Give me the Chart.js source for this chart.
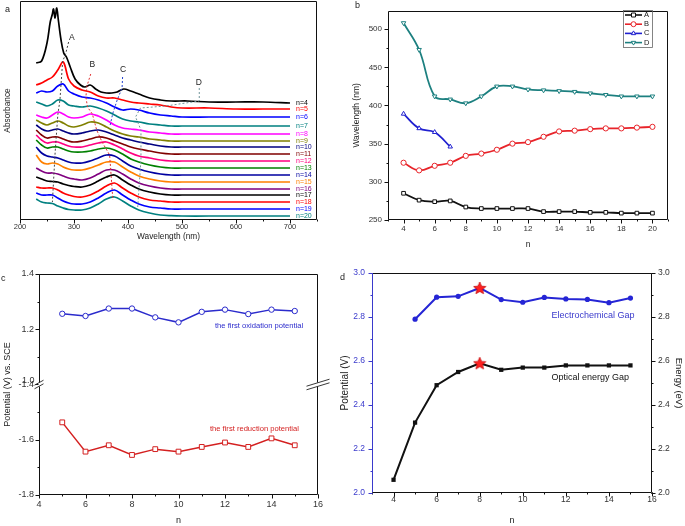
<!DOCTYPE html>
<html><head><meta charset="utf-8">
<script src="https://cdn.jsdelivr.net/npm/chart.js@4.4.1/dist/chart.umd.min.js"></script>
<style>
html,body{margin:0;padding:0;background:#fff;}
body{width:685px;height:526px;overflow:hidden;position:relative;font-family:"Liberation Sans",Arial,sans-serif;}
canvas{position:absolute;}
.pl{position:absolute;font-size:9px;color:#222;line-height:9px;}
</style></head><body>
<canvas id="ca" width="340" height="260" style="left:0;top:0"></canvas>
<canvas id="cb" width="345" height="260" style="left:340px;top:0"></canvas>
<canvas id="cc" width="340" height="266" style="left:0;top:260px"></canvas>
<canvas id="cd" width="345" height="266" style="left:340px;top:260px"></canvas>
<div class="pl" style="left:5px;top:5px">a</div>
<div class="pl" style="left:355px;top:1px">b</div>
<div class="pl" style="left:1px;top:274px">c</div>
<div class="pl" style="left:340px;top:273px">d</div>
<script>
// ---------- Panel a: absorption spectra (offset traces, arbitrary units) ----------
const wavelengths = [230,240,250,260,270,280,290,300,315,330,345,360,375,390,405,420,440,460,480,500,550,600,650,700];
const wavelengthsN4 = [230,240,250,256,260,262,265,268,271,276,281,286,293,302,312,320,330,340,350,360,370,380,392,405,420,440,460,480,510,550,600,650,700];
const absN4  = [157,159,177,198,206,211,202,212,200,180,167,163,153,141,135,133,135,131,128,127,127,128,131,129,126,122,120,119,119,118,118,118,117];
const absN5  = [135,137,140,143,150,158,141,134,130,128,124,122,122,120,118,117,116,115,113,112,112,111,111,111];
const absN6  = [127,129,128,129,134,136,129,126,123,122,120,117,113,110,111,110,107,105,104,103,103,103,103,103];
const absN7  = [118,116,114,116,120,119,115,114,113,114,112,109,105,101,99,98,96,95,94,94,94,94,94,94];
const absN8  = [105,103,102,105,108,106,103,102,103,106,104,100,95,92,91,90,88,87,86,86,86,86,86,86];
const absN9  = [100,97,95,97,99,97,94,93,95,98,97,93,89,86,84,83,81,80,79,79,79,79,79,79];
const absN10 = [95,91,89,90,91,89,87,86,87,89,90,88,85,82,80,78,76,74,73,73,73,73,73,73];
const absN11 = [90,85,82,83,83,81,79,78,79,81,83,82,79,76,73,71,69,67,66,66,66,66,66,66];
const absN12 = [85,80,77,78,78,76,74,73,73,75,77,78,75,71,67,64,62,60,59,59,59,59,59,59];
const absN13 = [80,75,72,73,73,71,69,68,68,69,71,72,70,66,61,58,55,53,52,52,52,52,52,52];
const absN14 = [73,67,64,63,62,60,58,57,57,59,62,65,64,59,54,51,48,46,45,45,45,45,45,45];
const absN15 = [65,58,56,57,56,53,51,50,50,52,55,58,58,53,48,44,41,39,38,38,38,38,38,38];
const absN16 = [52,49,47,47,46,44,42,41,40,42,46,50,50,46,41,37,34,32,31,31,31,31,31,31];
const absN17 = [43,41,39,38.5,38,36,34.5,33.5,33,35,39,43,45,40,35,31,28,26,25,25,25,25,25,25];
const absN18 = [33,32,32,32,30,27,25,23.5,23,25,29,34,37,32,27,23,20,19,18,18,18,18,18,18];
const absN19 = [27,25,25,25,22,19,17,16,16,18,22,27,30,25,20,16,13,12,11,11,11,11,11,11];
const absN20 = [21,18,17,16.5,14,12,10.5,10,10,12,16,21,23,19,14,10,7,5,4.3,4,4,4,4,4];
// dashed guides through peaks A-D (wavelength, trace height)
const guideA_x = [290,284,279,274,270,265,260], guideA_y = [178,165,159,120,105,67,18];
const guideB_x = [331,324,322,325,334,342,352,366,372], guideB_y = [146,134,123,113,106,90,78,65,20];
const guideC_x = [390,389,380,372,367], guideC_y = [143,132,120,107,95];
const guideD_x = [532,532,470,423,414,424,424,418], guideD_y = [132,119,114,112,103,90,60,13];
const peakLabels = [{t:'A',x:296,y:182},{t:'B',x:334,y:155},{t:'C',x:391,y:150},{t:'D',x:531,y:137}];

// ---------- Panel b: peak wavelengths vs n ----------
const nB = [4,5,6,7,8,9,10,11,12,13,14,15,16,17,18,19,20];
const peakA = [285,276,274,275,267,265,265,265,265,261,261,261,260,260,259,259,259];
const peakB = [325,315,321,325,334,337,342,350,352,359,366,367,369,370,370,371,372];
const nC = [4,5,6,7];
const peakC = [389,370,365,346];
const peakD = [508,473,412,408,403,412,425,425,421,420,419,418,416,414,412,412,412];
const ticksB_x = [4,6,8,10,12,14,16,18,20];

// ---------- Panel c: redox potentials ----------
const nCV = [5,6,7,8,9,10,11,12,13,14,15];
const oxidation = [1.256,1.248,1.275,1.275,1.243,1.225,1.263,1.271,1.255,1.271,1.266];
const reduction = [-1.537,-1.643,-1.620,-1.655,-1.634,-1.643,-1.626,-1.610,-1.626,-1.595,-1.620];
const BREAK_SHIFT = 2.4; // upper segment 1.0..1.4 shown above lower segment -1.8..-1.4

// ---------- Panel d: gaps ----------
const nGapE = [5,6,7,8,9,10,11,12,13,14,15];
const gapE = [2.79,2.89,2.894,2.932,2.879,2.867,2.889,2.882,2.88,2.865,2.886];
const nGapO = [4,5,6,7,8,9,10,11,12,13,14,15];
const gapO = [2.06,2.32,2.49,2.55,2.59,2.56,2.57,2.57,2.58,2.58,2.58,2.58];
const highlightN = 8;

const FONT = "'Liberation Sans', Arial, Helvetica, sans-serif";
Chart.defaults.font.family = FONT;
Chart.defaults.color = '#333';
Chart.defaults.animation = false;

const pts = (xs, ys) => xs.map((x,i)=>({x:x, y:ys[i]}));
const forceW = w => s => { s.width = w; };
const forceH = h => s => { s.height = h; };
const noGrid = {display:false, drawTicks:false};

const framePlugin = {
  id:'frame',
  afterDatasetsDraw(chart, args, o){
    if(!o || !o.on) return;
    const ctx = chart.ctx, a = chart.chartArea;
    const L = Math.round(a.left)+0.5, R = Math.round(a.right)-0.5, T = Math.round(a.top)+0.5, B = Math.round(a.bottom)-0.5;
    ctx.save(); ctx.lineWidth = 1;
    const line=(x1,y1,x2,y2,c)=>{ctx.strokeStyle=c;ctx.beginPath();ctx.moveTo(x1,y1);ctx.lineTo(x2,y2);ctx.stroke();};
    line(L,T,R,T,o.top||'#111'); line(R,T,R,B,o.right||'#111'); line(L,B,R,B,o.bottom||'#111'); line(L,T,L,B,o.left||'#111');
    (o.ticks||[]).forEach(t=>{
      const sc = chart.scales[t.scale]; const col = t.color||'#111';
      const draw=(v,len)=>{
        const p = Math.round(sc.getPixelForValue(v))+0.5;
        if(t.side==='bottom') line(p,B,p,B+len,col);
        else if(t.side==='left') line(L,p,L-len,p,col);
        else line(R,p,R+len,p,col);
      };
      if(t.minor){ for(let i=0;;i++){ const v=t.minorFrom+i*t.minor; if(v>sc.max+1e-9) break; draw(v,t.minorLen||2);} }
      sc.ticks.forEach(k=>draw(k.value,t.len||4));
    });
    ctx.restore();
  }
};
Chart.register(framePlugin);

function drawMarker(ctx, style, x, y, r, stroke, fill, rot){
  ctx.save(); ctx.translate(x,y); if(rot) ctx.rotate(rot*Math.PI/180);
  ctx.beginPath();
  if(style==='rect'){ ctx.rect(-r*0.8,-r*0.8,r*1.6,r*1.6); }
  else if(style==='triangle'){ ctx.moveTo(0,-r); ctx.lineTo(r*0.87,r*0.5); ctx.lineTo(-r*0.87,r*0.5); ctx.closePath(); }
  else { ctx.arc(0,0,r,0,Math.PI*2); }
  ctx.fillStyle=fill; ctx.fill(); ctx.strokeStyle=stroke; ctx.lineWidth=1; ctx.stroke(); ctx.restore();
}

// ======================= Panel a =======================
const spectra = [
  {n:4, x:wavelengthsN4, y:absN4, color:'#000000'},
  {n:5, x:wavelengths, y:absN5, color:'#ff0000'},
  {n:6, x:wavelengths, y:absN6, color:'#0000ff'},
  {n:7, x:wavelengths, y:absN7, color:'#008080'},
  {n:8, x:wavelengths, y:absN8, color:'#ff00ff'},
  {n:9, x:wavelengths, y:absN9, color:'#808000'},
  {n:10, x:wavelengths, y:absN10, color:'#000080'},
  {n:11, x:wavelengths, y:absN11, color:'#800000'},
  {n:12, x:wavelengths, y:absN12, color:'#ff0080'},
  {n:13, x:wavelengths, y:absN13, color:'#008000'},
  {n:14, x:wavelengths, y:absN14, color:'#0000a0'},
  {n:15, x:wavelengths, y:absN15, color:'#ff8000'},
  {n:16, x:wavelengths, y:absN16, color:'#800080'},
  {n:17, x:wavelengths, y:absN17, color:'#000000'},
  {n:18, x:wavelengths, y:absN18, color:'#ff0000'},
  {n:19, x:wavelengths, y:absN19, color:'#0000ff'},
  {n:20, x:wavelengths, y:absN20, color:'#008080'}
];
const guides = [
  {x:guideA_x, y:guideA_y, color:'#444444'},
  {x:guideB_x, y:guideB_y, color:'#e03030'},
  {x:guideC_x, y:guideC_y, color:'#2040d0'},
  {x:guideD_x, y:guideD_y, color:'#70959a'}
];
const dsA = [];
guides.forEach(g=>dsA.push({data:pts(g.x,g.y), borderColor:g.color, borderWidth:1, borderDash:[2,2], tension:0, pointRadius:0, order:0}));
spectra.forEach((s,i)=>dsA.push({data:pts(s.x,s.y), borderColor:s.color, borderWidth:1.7, tension:0.35, pointRadius:0, order:1+i}));

const labelsA = {
  id:'labelsA',
  afterDatasetsDraw(chart){
    const {ctx, scales:{x,y}} = chart;
    ctx.save(); ctx.textBaseline='middle'; ctx.textAlign='left'; ctx.font = "7px "+FONT;
    spectra.forEach(s=>{ ctx.fillStyle=s.color; ctx.fillText('n='+s.n, x.getPixelForValue(s.x[s.x.length-1])+6, y.getPixelForValue(s.y[s.y.length-1])); });
    ctx.font = "8.5px "+FONT; ctx.fillStyle='#222'; ctx.textAlign='center';
    peakLabels.forEach(p=>ctx.fillText(p.t, x.getPixelForValue(p.x), y.getPixelForValue(p.y)));
    ctx.restore();
  }
};

new Chart(document.getElementById('ca'), {
  type:'line',
  data:{datasets:dsA},
  plugins:[labelsA],
  options:{
    responsive:false, animation:false,
    layout:{padding:{top:1,right:23,left:0,bottom:0}},
    plugins:{legend:{display:false}, tooltip:{enabled:false},
      frame:{on:true, ticks:[{scale:'x', side:'bottom', len:4, minor:50, minorFrom:200, minorLen:2}]}},
    scales:{
      x:{type:'linear', min:200, max:750, afterFit:forceH(40), grid:noGrid, border:{display:false},
         ticks:{stepSize:100, includeBounds:false, padding:2, font:{size:7.5}},
         title:{display:true, text:'Wavelength (nm)', font:{size:8.3}, color:'#222', padding:{top:0,bottom:18}}},
      y:{type:'linear', min:0, max:219, afterFit:forceW(20), grid:noGrid, border:{display:false},
         ticks:{display:false},
         title:{display:true, text:'Absorbance', font:{size:8.3}, color:'#222', padding:{top:3,bottom:0}}}
    }
  }
});

// ======================= Panel b =======================
const seriesB = [
  {label:'A', x:nB, y:peakA, color:'#111111', style:'rect', rot:0},
  {label:'B', x:nB, y:peakB, color:'#e8242a', style:'circle', rot:0},
  {label:'C', x:nC, y:peakC, color:'#2020d0', style:'triangle', rot:0},
  {label:'D', x:nB, y:peakD, color:'#1d8080', style:'triangle', rot:180}
];
const legendB = {
  id:'legendB',
  afterDatasetsDraw(chart){
    const ctx = chart.ctx; ctx.save();
    const bx=283, by=10, bw=29, bh=37;
    ctx.strokeStyle='#666'; ctx.lineWidth=0.8; ctx.strokeRect(bx+0.5,by+0.5,bw,bh);
    ctx.font = "7.5px "+FONT; ctx.textBaseline='middle'; ctx.textAlign='left';
    seriesB.forEach((s,i)=>{
      const yy = by+5+i*9.2;
      ctx.strokeStyle=s.color; ctx.lineWidth=1.6; ctx.beginPath(); ctx.moveTo(bx+2,yy); ctx.lineTo(bx+19,yy); ctx.stroke();
      drawMarker(ctx, s.style, bx+10.5, yy, 2.5, s.color, '#fff', s.rot);
      ctx.fillStyle='#222'; ctx.fillText(s.label, bx+21, yy);
    });
    ctx.restore();
  }
};
new Chart(document.getElementById('cb'), {
  type:'line',
  data:{datasets: seriesB.map(s=>({label:s.label, data:pts(s.x,s.y), borderColor:s.color, borderWidth:1.8, tension:0.4,
      pointStyle:s.style, pointRotation:s.rot, pointRadius:2.6, pointBorderWidth:1, pointBorderColor:s.color, pointBackgroundColor:'#fff'}))},
  plugins:[legendB],
  options:{
    responsive:false, animation:false,
    layout:{padding:{top:1,right:17,left:0,bottom:0}},
    plugins:{legend:{display:false}, tooltip:{enabled:false},
      frame:{on:true, ticks:[{scale:'x', side:'bottom', len:4, minor:1, minorFrom:3, minorLen:2},
                             {scale:'y', side:'left', len:4, minor:25, minorFrom:250, minorLen:2}]}},
    scales:{
      x:{type:'linear', min:3, max:21, afterFit:forceH(40), grid:noGrid, border:{display:false},
         afterBuildTicks: s => { s.ticks = ticksB_x.map(v=>({value:v})); },
         ticks:{padding:3.5, font:{size:8}},
         title:{display:true, text:'n', font:{size:8.5}, color:'#222', padding:{top:0,bottom:10}}},
      y:{type:'linear', min:250, max:524, afterFit:forceW(48), grid:noGrid, border:{display:false},
         ticks:{stepSize:50, includeBounds:false, padding:6, font:{size:8}},
         title:{display:true, text:'Wavelength (nm)', font:{size:8.5}, color:'#222', padding:{top:12,bottom:0}}}
    }
  }
});

// ======================= Panel c =======================
const colOx = '#2b2bcc', colRed = '#d42020';
const labelsC = {
  id:'labelsC',
  afterDatasetsDraw(chart){
    const {ctx, scales:{x,y}, chartArea:a} = chart;
    ctx.save();
    ctx.font = "7.6px "+FONT; ctx.textBaseline='middle'; ctx.textAlign='left';
    ctx.fillStyle=colOx; ctx.fillText('the first oxidation potential', x.getPixelForValue(11.57), y.getPixelForValue(1.212-BREAK_SHIFT));
    ctx.fillStyle=colRed; ctx.fillText('the first reduction potential', x.getPixelForValue(11.35), y.getPixelForValue(-1.561));
    // break marks
    const p = y.getPixelForValue(-1.4);
    const L = Math.round(a.left)+0.5, R = Math.round(a.right)-0.5;
    ctx.fillStyle='#fff'; ctx.fillRect(L-1,p-2,3,4); ctx.fillRect(R-1,p-2,3,4);
    ctx.strokeStyle='#222'; ctx.lineWidth=0.9;
    [[-1.8],[1.8]].forEach(d=>{
      ctx.beginPath(); ctx.moveTo(L-5,p+d[0]+2.5); ctx.lineTo(L+4,p+d[0]-2.5); ctx.stroke();
      ctx.beginPath(); ctx.moveTo(R-11,p+d[0]+3.5); ctx.lineTo(R+12,p+d[0]-3.5); ctx.stroke();
    });
    // upper-segment label at the break
    ctx.font = "9px "+FONT; ctx.fillStyle='#333'; ctx.textAlign='right';
    ctx.fillText('1.0', L-5, p-4);
    ctx.restore();
  }
};
new Chart(document.getElementById('cc'), {
  type:'line',
  data:{datasets:[
    {data:pts(nCV, oxidation.map(v=>v-BREAK_SHIFT)), borderColor:colOx, borderWidth:1.5, tension:0, pointStyle:'circle', pointRadius:2.7, pointBorderWidth:1, pointBorderColor:colOx, pointBackgroundColor:'#fff'},
    {data:pts(nCV, reduction), borderColor:colRed, borderWidth:1.5, tension:0, pointStyle:'rect', pointRadius:3.4, pointBorderWidth:1, pointBorderColor:colRed, pointBackgroundColor:'#fff'}
  ]},
  plugins:[labelsC],
  options:{
    responsive:false, animation:false,
    layout:{padding:{top:14,right:22,left:0,bottom:0}},
    plugins:{legend:{display:false}, tooltip:{enabled:false},
      frame:{on:true, ticks:[{scale:'x', side:'bottom', len:4, minor:1, minorFrom:4, minorLen:2},
                             {scale:'y', side:'left', len:4, minor:0.1, minorFrom:-1.8, minorLen:2}]}},
    scales:{
      x:{type:'linear', min:4, max:16, afterFit:forceH(31), grid:noGrid, border:{display:false},
         ticks:{stepSize:2, padding:4.5, font:{size:9}},
         title:{display:true, text:'n', font:{size:9}, color:'#222', padding:{top:0,bottom:0}}},
      y:{type:'linear', min:-1.8, max:-1.0, afterFit:forceW(39), grid:noGrid, border:{display:false},
         ticks:{stepSize:0.2, padding:5, font:{size:9},
           callback:v=>{ if(Math.abs(v+1.4)<1e-6) return '-1.4'; return v>-1.4 ? (v+BREAK_SHIFT).toFixed(1) : v.toFixed(1); }},
         title:{display:true, text:'Potential (V) vs. SCE', font:{size:9}, color:'#222', padding:{top:2,bottom:0}}}
    }
  }
});

// ======================= Panel d =======================
function makeStar(size, color){
  const c=document.createElement('canvas'); c.width=c.height=size;
  const g=c.getContext('2d'); const cx=size/2, cy=size/2+0.5, R=size/2-0.5, r=R*0.45;
  g.beginPath();
  for(let i=0;i<10;i++){ const ang=-Math.PI/2+i*Math.PI/5; const rad=i%2?r:R; g.lineTo(cx+rad*Math.cos(ang), cy+rad*Math.sin(ang)); }
  g.closePath(); g.fillStyle=color; g.fill(); g.strokeStyle='#c00000'; g.lineWidth=0.7; g.stroke();
  return c;
}
const star = makeStar(14, '#ff2020');
const colE = '#2525d5', colAxisD = '#3a3acc';
const labelsD = {
  id:'labelsD',
  afterDatasetsDraw(chart){
    const {ctx, scales:{x,y}} = chart;
    ctx.save(); ctx.font = "9px "+FONT; ctx.textBaseline='middle'; ctx.textAlign='left';
    ctx.fillStyle=colAxisD; ctx.fillText('Electrochemical Gap', x.getPixelForValue(11.33), y.getPixelForValue(2.805));
    ctx.fillStyle='#111'; ctx.fillText('Optical energy Gap', x.getPixelForValue(11.33), y.getPixelForValue(2.523));
    ctx.restore();
  }
};
new Chart(document.getElementById('cd'), {
  type:'line',
  data:{datasets:[
    {data:pts(nGapE,gapE), borderColor:colE, borderWidth:2, tension:0,
     pointStyle:nGapE.map(n=>n===highlightN?star:'circle'), pointRadius:2.6, pointBorderWidth:0, pointBackgroundColor:colE, yAxisID:'y'},
    {data:pts(nGapO,gapO), borderColor:'#111', borderWidth:2, tension:0,
     pointStyle:nGapO.map(n=>n===highlightN?star:'rect'), pointRadius:3, pointBorderWidth:0, pointBackgroundColor:'#111', yAxisID:'y'}
  ]},
  plugins:[labelsD],
  options:{
    responsive:false, animation:false,
    layout:{padding:{top:13,right:0,left:0,bottom:0}},
    plugins:{legend:{display:false}, tooltip:{enabled:false},
      frame:{on:true, left:colAxisD, ticks:[{scale:'x', side:'bottom', len:4, minor:1, minorFrom:3, minorLen:2},
                             {scale:'y', side:'left', len:4, minor:0.1, minorFrom:2, minorLen:2, color:colAxisD},
                             {scale:'y2', side:'right', len:4, minor:0.1, minorFrom:2, minorLen:2}]}},
    scales:{
      x:{type:'linear', min:3, max:16, afterFit:forceH(33), grid:noGrid, border:{display:false},
         ticks:{stepSize:2, includeBounds:false, padding:2, font:{size:8.5}},
         title:{display:true, text:'n', font:{size:9}, color:'#222', padding:{top:0,bottom:0}}},
      y:{type:'linear', position:'left', min:2, max:3, afterFit:forceW(32), grid:noGrid, border:{display:false},
         ticks:{stepSize:0.2, padding:7, font:{size:8.5}, color:colAxisD, callback:v=>v.toFixed(1)},
         title:{display:true, text:'Potential (V)', font:{size:10}, color:'#222', padding:{top:-1,bottom:0}}},
      y2:{type:'linear', position:'right', display:true, min:2, max:3, afterFit:forceW(33), grid:noGrid, border:{display:false},
         ticks:{stepSize:0.2, padding:6, font:{size:8.5}, color:'#333', callback:v=>v.toFixed(1)},
         title:{display:true, text:'Energy (eV)', font:{size:9.5}, color:'#222', padding:{top:1,bottom:0}}}
    }
  }
});
</script>
</body></html>
